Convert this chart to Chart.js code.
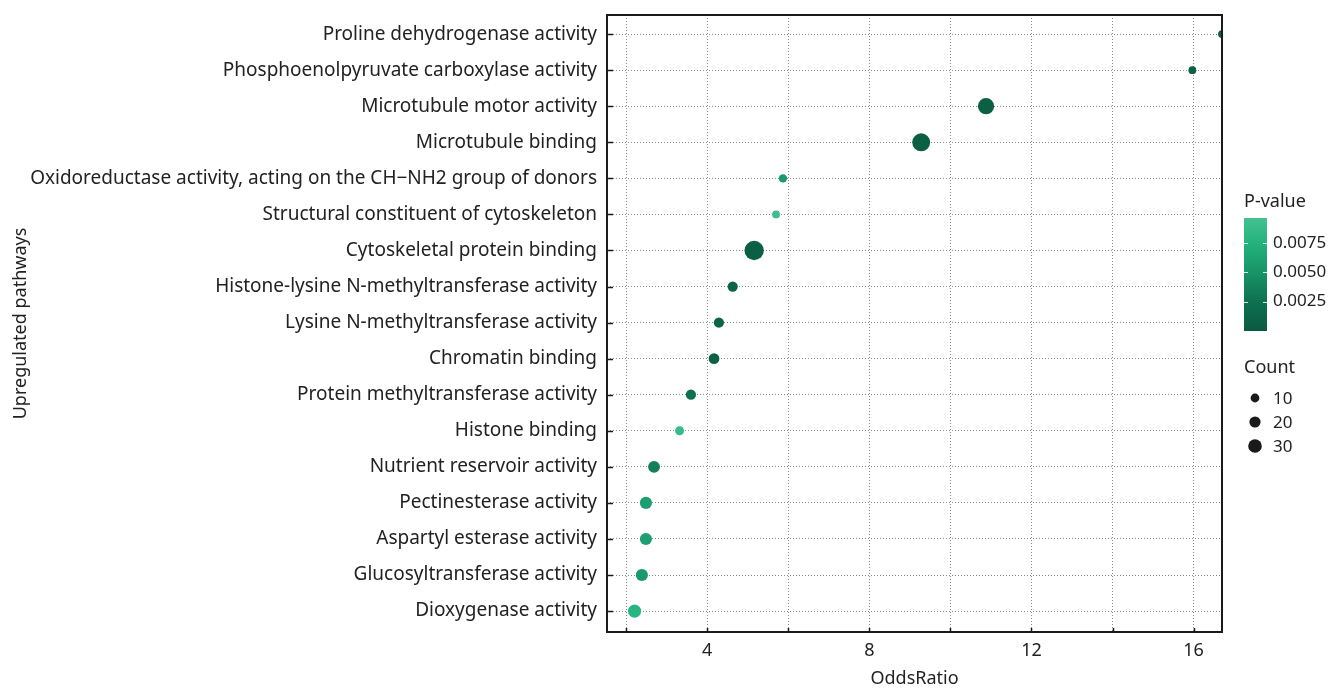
<!DOCTYPE html>
<html>
<head>
<meta charset="utf-8">
<script src="https://cdn.jsdelivr.net/npm/chart.js@4"></script>
<style>
  body { margin: 0; background: #fff; }
</style>
</head>
<body>
<canvas id="myChart" width="1331" height="690"></canvas>
<script>
// pathways from top to bottom
const pathways = [
    "Proline dehydrogenase activity",
    "Phosphoenolpyruvate carboxylase activity",
    "Microtubule motor activity",
    "Microtubule binding",
    "Oxidoreductase activity, acting on the CH\u2212NH2 group of donors",
    "Structural constituent of cytoskeleton",
    "Cytoskeletal protein binding",
    "Histone-lysine N-methyltransferase activity",
    "Lysine N-methyltransferase activity",
    "Chromatin binding",
    "Protein methyltransferase activity",
    "Histone binding",
    "Nutrient reservoir activity",
    "Pectinesterase activity",
    "Aspartyl esterase activity",
    "Glucosyltransferase activity",
    "Dioxygenase activity"
];
const oddsRatio = [16.7, 15.97, 10.88, 9.28, 5.87, 5.70, 5.16, 4.63, 4.29, 4.17, 3.60, 3.32, 2.69, 2.49, 2.49, 2.39, 2.21];
const geneCount = [6, 6, 41, 48, 8, 6, 54, 16, 16, 18, 16, 11, 23, 24, 24, 24, 28];
const pValue = [0.0008, 0.0008, 0.0007, 0.0007, 0.0055, 0.0092, 0.0006, 0.0012, 0.0012, 0.0009, 0.0025, 0.0088, 0.0035, 0.0060, 0.0060, 0.0055, 0.0078];

const xTicks = [2, 4, 6, 8, 10, 12, 14, 16];
const xLabelTicks = [4, 8, 12, 16];
const pValueTicks = [0.0025, 0.0050, 0.0075];
const countBreaks = [10, 20, 30];

const fontFamily = "'Noto Sans', 'Open Sans', sans-serif";
const textColor = "#222";

// colour scale for p-value (dark = small)
const colorStops = [
    [0.0000, [10, 90, 64]],
    [0.0025, [14, 112, 80]],
    [0.0050, [24, 148, 104]],
    [0.0075, [36, 179, 126]],
    [0.0096, [68, 193, 144]]
];
function pColor(v) {
    if (v <= colorStops[0][0]) return "rgb(" + colorStops[0][1].join(",") + ")";
    for (let i = 1; i < colorStops.length; i++) {
        if (v <= colorStops[i][0]) {
            const a = colorStops[i - 1], b = colorStops[i];
            const t = (v - a[0]) / (b[0] - a[0]);
            const c = a[1].map((x, k) => Math.round(x + (b[1][k] - x) * t));
            return "rgb(" + c.join(",") + ")";
        }
    }
    return "rgb(" + colorStops[colorStops.length - 1][1].join(",") + ")";
}

// bubble radius in px from gene count
function countRadius(n) {
    return 3.2 + 0.12 * n;
}

const points = pathways.map((p, i) => ({ x: oddsRatio[i], y: i, r: countRadius(geneCount[i]) }));

// frame, inward ticks and the two legends
const decorPlugin = {
    id: "decor",
    afterDatasetsDraw(chart) {
        const ctx = chart.ctx;
        const a = chart.chartArea;
        const xs = chart.scales.x, ys = chart.scales.y;
        ctx.save();
        ctx.strokeStyle = "#1a1a1a";
        ctx.lineWidth = 1.5;
        pathways.forEach((p, i) => {
            const y = Math.round(ys.getPixelForValue(i)) + 0.5;
            ctx.beginPath();
            ctx.moveTo(a.left, y);
            ctx.lineTo(a.left + 6, y);
            ctx.stroke();
        });
        xTicks.forEach(v => {
            const x = Math.round(xs.getPixelForValue(v)) + 0.5;
            ctx.beginPath();
            ctx.moveTo(x, a.bottom);
            ctx.lineTo(x, a.bottom - 4);
            ctx.stroke();
        });
        ctx.lineWidth = 2;
        ctx.strokeRect(a.left, a.top, a.right - a.left, a.bottom - a.top);
        ctx.restore();
    },
    afterDraw(chart) {
        const ctx = chart.ctx;
        ctx.save();
        ctx.fillStyle = textColor;
        ctx.font = "18px " + fontFamily;
        ctx.textBaseline = "middle";
        ctx.textAlign = "left";

        // P-value colour bar
        const barX = 1244, barW = 23, barTop = 218, barBottom = 331;
        const pMin = 0, pMax = 0.0096;
        const yOf = v => barBottom - (v - pMin) / (pMax - pMin) * (barBottom - barTop);
        ctx.fillText("P-value", 1244, 202);
        for (let y = barTop; y < barBottom; y++) {
            const v = pMin + (barBottom - y - 0.5) / (barBottom - barTop) * (pMax - pMin);
            ctx.fillStyle = pColor(v);
            ctx.fillRect(barX, y, barW, 1);
        }
        ctx.strokeStyle = "rgba(255,255,255,0.85)";
        ctx.lineWidth = 1;
        ctx.font = "17px " + fontFamily;
        pValueTicks.forEach(v => {
            const y = Math.round(yOf(v)) + 0.5;
            ctx.beginPath();
            ctx.moveTo(barX, y); ctx.lineTo(barX + 4, y);
            ctx.moveTo(barX + barW - 4, y); ctx.lineTo(barX + barW, y);
            ctx.stroke();
            ctx.fillStyle = textColor;
            ctx.fillText(v.toFixed(4), 1273, yOf(v));
        });

        // Count size legend
        ctx.font = "18px " + fontFamily;
        ctx.fillStyle = textColor;
        ctx.fillText("Count", 1244, 368);
        ctx.font = "17px " + fontFamily;
        const rowY = [398, 422, 446];
        countBreaks.forEach((n, i) => {
            ctx.beginPath();
            ctx.arc(1255, rowY[i], countRadius(n), 0, Math.PI * 2);
            ctx.fillStyle = "#1a1a1a";
            ctx.fill();
            ctx.fillStyle = textColor;
            ctx.fillText(String(n), 1273, rowY[i] + 1);
        });
        ctx.restore();
    }
};

const gridStyle = {
    color: "#8a8a8a",
    lineWidth: 1,
    drawTicks: false
};

const chart = new Chart(document.getElementById("myChart"), {
    type: "bubble",
    data: {
        datasets: [{
            label: "Upregulated",
            data: points,
            backgroundColor: pValue.map(pColor),
            borderWidth: 0,
            clip: 0
        }]
    },
    options: {
        responsive: false,
        animation: false,
        events: [],
        layout: { padding: { top: 15, right: 109, bottom: 0, left: 10 } },
        plugins: {
            legend: { display: false },
            tooltip: { enabled: false }
        },
        scales: {
            x: {
                type: "linear",
                min: 1.53,
                max: 16.7,
                afterBuildTicks: axis => { axis.ticks = xTicks.map(v => ({ value: v })); },
                afterFit: axis => {
                    axis.height = 58;
                    axis.paddingLeft = 0;
                    axis.paddingRight = 0;
                },
                ticks: {
                    color: textColor,
                    font: { family: fontFamily, size: 18 },
                    padding: 8,
                    maxRotation: 0,
                    callback: v => xLabelTicks.includes(v) ? String(v) : ""
                },
                grid: Object.assign({ }, gridStyle),
                border: { display: false, dash: [1, 2] },
                title: {
                    display: true,
                    text: "OddsRatio",
                    color: textColor,
                    font: { family: fontFamily, size: 18 },
                    padding: { top: 2, bottom: 0 }
                }
            },
            y: {
                type: "linear",
                reverse: true,
                min: -0.53,
                max: 16.58,
                afterBuildTicks: axis => { axis.ticks = pathways.map((p, i) => ({ value: i })); },
                afterFit: axis => {
                    axis.width = 597;
                    axis.paddingTop = 0;
                    axis.paddingBottom = 0;
                },
                ticks: {
                    color: textColor,
                    font: { family: fontFamily, size: 19 },
                    padding: 10,
                    callback: v => pathways[v]
                },
                grid: Object.assign({ }, gridStyle),
                border: { display: false, dash: [1, 2] },
                title: {
                    display: true,
                    text: "Upregulated pathways",
                    color: textColor,
                    font: { family: fontFamily, size: 18 },
                    padding: { top: 0, bottom: 0 }
                }
            }
        }
    },
    plugins: [decorPlugin]
});
</script>
</body>
</html>
